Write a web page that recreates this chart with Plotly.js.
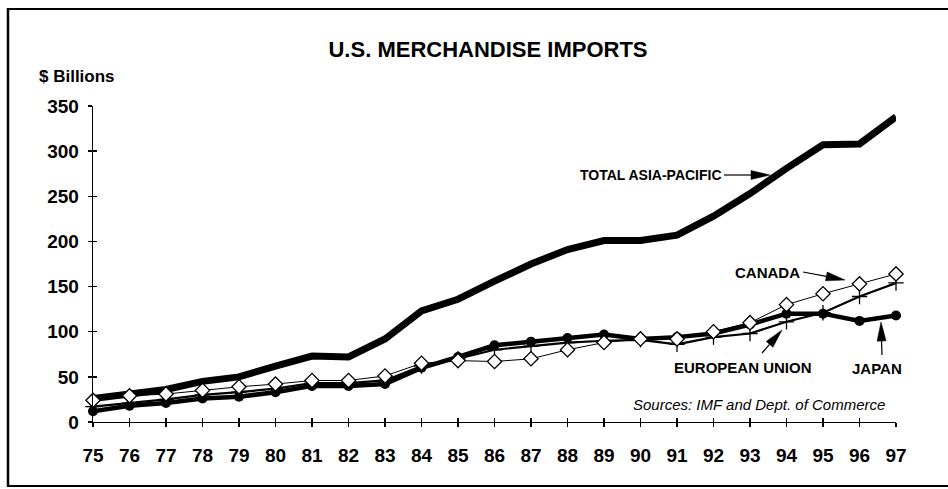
<!DOCTYPE html>
<html>
<head>
<meta charset="utf-8">
<script src="https://cdn.plot.ly/plotly-3.0.1.min.js"></script>
<style>
  html, body { margin: 0; padding: 0; background: #fff; }
  #chart { width: 948px; height: 489px; }
</style>
</head>
<body>
<div id="chart"></div>
<script>
// ---- data ----
const years = ['75','76','77','78','79','80','81','82','83','84','85','86','87','88','89','90','91','92','93','94','95','96','97'];
const totalAsiaPacific = [26,31,36,45,50,62,73,72,92,123,136,156,175,191,201,201,207,228,253,281,307,308,338];
const japan  = [12,18,21,26,28,33,40,40,42,60,72,85,89,93,97,92,94,98,108,120,120,112,118];
const europeanUnion = [17,21,25,30,33,37,43,43,46,62,70,80,84,88,90,91,86,94,98,111,121,139,154];
const canada = [24,29,31,35,39,42,46,46,51,65,68,67,70,80,88,92,92,100,110,130,142,153,164];
const yTicks = [0,50,100,150,200,250,300,350];

// ---- layout helpers ----
const W = 948, H = 489, ML = 93, MR = 52, MT = 106, MB = 67;
const PW = W - ML - MR, PH = H - MT - MB;
const px = x => (x - ML) / PW;
const py = y => (H - MB - y) / PH;
const FONT = 'Liberation Sans, Arial, Helvetica, sans-serif';

const traces = [
  { x: years, y: totalAsiaPacific, type: 'scatter', mode: 'lines', name: 'TOTAL ASIA-PACIFIC',
    line: { color: '#000', width: 7 }, cliponaxis: false },
  { x: years, y: japan, type: 'scatter', mode: 'lines+markers', name: 'JAPAN',
    line: { color: '#000', width: 4.5 }, marker: { symbol: 'circle', size: 10, color: '#000' }, cliponaxis: false },
  { x: years, y: europeanUnion, type: 'scatter', mode: 'lines+markers', name: 'EUROPEAN UNION',
    line: { color: '#000', width: 2.2 }, marker: { symbol: 'cross-thin', size: 11, line: { color: '#000', width: 1.3 } }, cliponaxis: false },
  { x: years, y: canada, type: 'scatter', mode: 'lines+markers', name: 'CANADA',
    line: { color: '#000', width: 1 }, marker: { symbol: 'diamond', size: 11, color: '#fff', line: { color: '#000', width: 1.3 } }, cliponaxis: false },
  // carrier for the inner halves of the tick marks
  { x: [], y: [], xaxis: 'x2', yaxis: 'y2', type: 'scatter', mode: 'markers', showlegend: false, hoverinfo: 'skip' }
];

// callout arrow (pixel positions converted to paper): shaft line + slender filled head
function arrowShapes(tx, ty, sx, sy) {
  const len = 19, half = 4.5;
  const dx = tx - sx, dy = ty - sy, d = Math.hypot(dx, dy);
  const ux = dx / d, uy = dy / d;
  const bx = tx - ux * len, by = ty - uy * len;
  const p1 = [bx - uy * half, by + ux * half], p2 = [bx + uy * half, by - ux * half];
  return [
    { type: 'line', xref: 'paper', yref: 'paper', x0: px(sx), y0: py(sy), x1: px(bx), y1: py(by),
      line: { color: '#000', width: 1.2 } },
    { type: 'path', xref: 'paper', yref: 'paper',
      path: `M${px(tx)},${py(ty)} L${px(p1[0])},${py(p1[1])} L${px(p2[0])},${py(p2[1])} Z`,
      fillcolor: '#000', line: { color: '#000', width: 0.5 } }
  ];
}
const label = (text, x, y, xanchor, font) => ({
  xref: 'paper', yref: 'paper', x: px(x), y: py(y), xanchor: xanchor, yanchor: 'middle',
  text: text, showarrow: false, font: Object.assign({ family: FONT, color: '#000' }, font)
});

const frame = [
  { type: 'line', xref: 'paper', yref: 'paper', x0: px(8), x1: px(8), y0: py(8), y1: py(487), line: { color: '#000', width: 2.5 } },
  { type: 'line', xref: 'paper', yref: 'paper', x0: px(8), x1: px(948), y0: py(9), y1: py(9), line: { color: '#000', width: 2 } },
  { type: 'line', xref: 'paper', yref: 'paper', x0: px(8), x1: px(948), y0: py(486), y1: py(486), line: { color: '#000', width: 2 } }
];

const layout = {
  width: W, height: H,
  margin: { l: ML, r: MR, t: MT, b: MB, pad: 0 },
  paper_bgcolor: '#fff', plot_bgcolor: '#fff',
  showlegend: false,
  font: { family: FONT, color: '#000' },
  title: { text: '<b>U.S. MERCHANDISE IMPORTS</b>', font: { family: FONT, size: 22, color: '#000' },
           x: 488 / W, xanchor: 'center', xref: 'container', y: 1 - 49 / H, yanchor: 'middle', yref: 'container' },
  xaxis: { type: 'category', range: [0, years.length - 1], showgrid: false, zeroline: false,
           showline: true, linecolor: '#000', linewidth: 1.3,
           ticks: 'outside', ticklen: 4, tickwidth: 1.3, tickcolor: '#000',
           tickfont: { family: FONT, size: 19, weight: 'bold', color: '#000' }, ticklabelstandoff: 12 },
  yaxis: { range: [0, 350], tickvals: yTicks, showgrid: false, zeroline: false,
           showline: true, linecolor: '#000', linewidth: 1.3,
           ticks: 'outside', ticklen: 4, tickwidth: 1.3, tickcolor: '#000',
           tickfont: { family: FONT, size: 19, weight: 'bold', color: '#000' }, ticklabelstandoff: 5 },
  xaxis2: { overlaying: 'x', range: [0, years.length - 1], dtick: 1, tick0: 0, showgrid: false, zeroline: false,
            showline: false, ticks: 'inside', ticklen: 4, tickwidth: 1.3, tickcolor: '#000', showticklabels: false },
  yaxis2: { overlaying: 'y', range: [0, 350], tickvals: yTicks, showgrid: false, zeroline: false,
            showline: false, ticks: 'inside', ticklen: 4, tickwidth: 1.3, tickcolor: '#000', showticklabels: false },
  annotations: [
    label('<b>$ Billions</b>', 37, 77, 'left', { size: 17 }),
    label('<b>TOTAL ASIA-PACIFIC</b>', 724, 175, 'right', { size: 14 }),
    label('<b>CANADA</b>', 802, 272, 'right', { size: 15 }),
    label('<b>EUROPEAN UNION</b>', 743, 367, 'center', { size: 15 }),
    label('<b>JAPAN</b>', 876.5, 368, 'center', { size: 15 }),
    label('<i>Sources: IMF and Dept. of Commerce</i>', 887, 404, 'right', { size: 15 })
  ],
  shapes: [].concat(
    frame,
    arrowShapes(770, 175, 724, 175),
    arrowShapes(845, 280, 803, 272),
    arrowShapes(782, 330, 762, 353),
    arrowShapes(881, 322, 882, 355)
  )
};

Plotly.newPlot('chart', traces, layout, { staticPlot: true, displayModeBar: false });
</script>
</body>
</html>
